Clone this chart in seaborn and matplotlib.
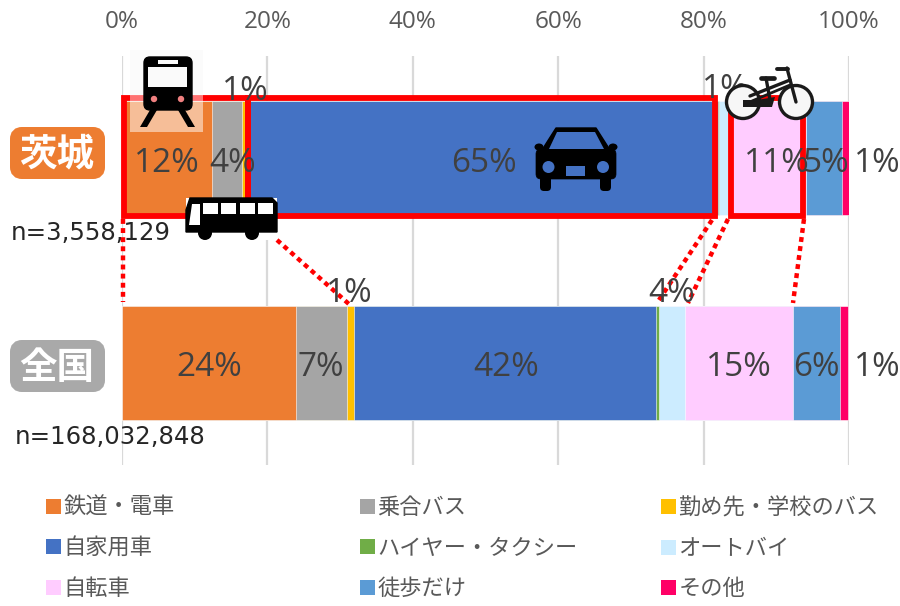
import numpy as np
import matplotlib
matplotlib.use("Agg")
import matplotlib.pyplot as plt
from matplotlib.patches import Rectangle, FancyBboxPatch, Circle, Polygon, Patch, Ellipse
import seaborn as sns

regions = ["茨城", "全国"]
modes = ["鉄道・電車", "乗合バス", "勤め先・学校のバス", "自家用車", "ハイヤー・タクシー",
         "オートバイ", "自転車", "徒歩だけ", "その他"]
colors = ["#ED7D31", "#A5A5A5", "#FFC000", "#4472C4", "#70AD47",
          "#CCECFF", "#FFCCFF", "#5B9BD5", "#FF0066"]
ibaraki = [12.4, 4.1, 0.7, 64.8, 0.1, 1.3, 10.7, 4.9, 1.0]
national = [23.9, 7.0, 1.0, 41.6, 0.3, 3.6, 14.9, 6.4, 1.2]
sample_sizes = ["n=3,558,129", "n=168,032,848"]
xticks = [0, 20, 40, 60, 80, 100]

sns.set_theme(style="white")
plt.rcParams["font.family"] = ["Open Sans", "Noto Sans CJK JP", "DejaVu Sans"]
GREY = "#595959"
DARK = "#404040"
W, H = 900, 606
fig = plt.figure(figsize=(W / 100, H / 100), dpi=100)
ax = fig.add_axes([122 / W, 1 - 465 / H, 727 / W, 409 / H])

values = np.array([ibaraki, national])
cum = values.cumsum(axis=1)
for i in range(len(modes) - 1, -1, -1):
    sns.barplot(x=cum[:, i], y=regions, color=colors[i], saturation=1, width=0.557,
                edgecolor="white", linewidth=0.4, ax=ax, zorder=2)
ax.set_xlim(0, 100)
ax.set_ylim(1.5, -0.5)
ax.xaxis.tick_top()
ax.set_xticks(xticks)
ax.set_xticklabels([f"{t}%" for t in xticks], fontsize=17.5, color=GREY)
ax.tick_params(axis="x", length=0, pad=15.5)
ax.tick_params(axis="y", length=0, labelleft=False)
ax.set_ylabel("")
ax.set_xlabel("")
ax.grid(axis="x", color="#D9D9D9", lw=1.6, zorder=0)
ax.grid(axis="y", visible=False)
ax.set_axisbelow(True)
sns.despine(ax=ax, left=True, bottom=True, top=True, right=True)

# legends: three separate columns
def col_legend(idx, x):
    h = [Patch(facecolor=colors[k], edgecolor="none", label=modes[k]) for k in idx]
    leg = fig.legend(handles=h, loc="upper left", bbox_to_anchor=(x / W, 1 - 498 / H),
                     frameon=False, fontsize=16, labelcolor=GREY, handlelength=0.66,
                     handleheight=0.66, handletextpad=0.12, labelspacing=0.88,
                     borderpad=0, borderaxespad=0)
    return leg
col_legend([0, 3, 6], 46)
col_legend([1, 4, 7], 360)
col_legend([2, 5, 8], 661)

# overlay in pixel coordinates for annotations
ov = fig.add_axes([0, 0, 1, 1], zorder=5)
ov.set_xlim(0, W)
ov.set_ylim(H, 0)
ov.axis("off")
ov.patch.set_alpha(0)

RED = "#FF0000"
# pale backdrop of train icon
ov.add_patch(Rectangle((130, 50), 73, 45, fc="#FBFBFB", ec="none", zorder=1))
ov.add_patch(Rectangle((130, 101), 73, 31, fc="white", alpha=0.5, ec="none", zorder=1))

# highlight boxes
for x0, x1 in [(123.5, 247.5), (247.5, 715), (730.5, 802.5)]:
    ov.add_patch(Rectangle((x0, 98), x1 - x0, 118, fc="none", ec=RED, lw=4.2, zorder=2,
                           joinstyle="miter"))
ov.add_patch(Rectangle((130, 95), 73, 6, fc="white", alpha=0.45, ec="none", zorder=2))
for (a, b, c, d) in [(123, 219, 123, 302), (277, 240, 350, 305), (712, 220, 657, 303),
                     (728, 219, 688, 303), (804, 219, 793, 303)]:
    ov.plot([a, c], [b, d], color=RED, lw=3.2, zorder=2, linestyle=(0, (1.1, 0.95)),
            dash_capstyle="butt")

# value labels
def lab(v, x, y):
    ov.text(x, y, f"{round(v)}%", fontsize=24, color=DARK, ha="center", va="center", zorder=3)
for v, x, y in zip(ibaraki, [167, 233, 245, 484, None, 725, 777, 826, 877],
                   [163, 163, 91, 163, 0, 89, 163, 163, 163]):
    if x is not None:
        lab(v, x, y)
for v, x, y in zip(national, [209, 321, 349, 506, None, 672, 739, 816, 877],
                   [368, 368, 294, 368, 0, 294, 368, 368, 368]):
    if x is not None:
        lab(v, x, y)

# region tags
for name, col, y0 in zip(regions, ["#ED7D31", "#A9A9A9"], [127, 340]):
    ov.add_patch(FancyBboxPatch((18, y0 + 8), 79, 36, boxstyle="round,pad=0,rounding_size=4",
                                mutation_aspect=1, fc=col, ec=col, lw=16 * 0.72, zorder=3))
    ov.text(57, y0 + 27, name, fontsize=27, fontweight="bold", color="white", ha="center",
            va="center", zorder=4, family=["Noto Sans CJK JP"])
ov.text(11, 233, sample_sizes[0], fontsize=17.6, color="#262626", ha="left", va="center", zorder=1.5,
        family=["DejaVu Sans"])
ov.text(15, 437, sample_sizes[1], fontsize=17.6, color="#262626", ha="left", va="center", zorder=1.5,
        family=["DejaVu Sans"])

# icons
K = "black"
Z = 6
# train
ov.add_patch(FancyBboxPatch((144, 57), 48, 53, boxstyle="round,pad=0,rounding_size=6", fc=K, ec=K,
                            lw=1, zorder=Z))
ov.add_patch(Rectangle((148, 67), 39, 20, fc="#FAFAFA", ec="none", zorder=Z + 1))
ov.add_patch(Rectangle((158, 60), 20, 4, fc="#FAFAFA", ec="none", zorder=Z + 1))
for cx in (154, 181):
    ov.add_patch(Circle((cx, 99), 3.2, fc="#F08080", ec="none", zorder=Z + 1))
ov.add_patch(Polygon([(150, 110), (157, 110), (147, 127), (140, 127)], fc=K, ec="none", zorder=Z))
ov.add_patch(Polygon([(178, 110), (185, 110), (195, 127), (188, 127)], fc=K, ec="none", zorder=Z))
# bus
ov.add_patch(Rectangle((186, 198), 91, 42, fc="white", ec="none", zorder=Z - 1))
ov.add_patch(Polygon([(190, 198), (272, 198), (277, 203), (277, 232), (186, 232), (186, 210)],
                     fc=K, ec=K, zorder=Z))
for x0 in (203, 221, 240, 258):
    ov.add_patch(Rectangle((x0, 203), 15, 11, fc="white", ec="none", zorder=Z + 1))
ov.add_patch(Polygon([(192, 204), (200, 204), (200, 225), (189, 225)], fc="white", ec="none", zorder=Z + 1))
for cx in (205, 252):
    ov.add_patch(Circle((cx, 233), 7, fc=K, ec="none", zorder=Z))
# car
BL = colors[3]
ov.add_patch(Polygon([(556, 128), (596, 128), (610, 150), (542, 150)], fc=K, ec=K, lw=1, zorder=Z,
                     joinstyle="round"))
ov.add_patch(Polygon([(557, 132), (595, 132), (604, 149), (549, 149)], fc=BL, ec="none", zorder=Z + 1))
ov.add_patch(FancyBboxPatch((536, 149), 80, 30, boxstyle="round,pad=0,rounding_size=5", fc=K, ec=K,
                            lw=0.5, zorder=Z))
for x0 in (540, 600):
    ov.add_patch(FancyBboxPatch((x0, 176), 11, 15, boxstyle="round,pad=0,rounding_size=4", fc=K,
                                ec="none", zorder=Z))
ov.add_patch(Circle((548.5, 167), 6, fc=BL, ec="none", zorder=Z + 1))
ov.add_patch(Circle((603, 167), 6, fc=BL, ec="none", zorder=Z + 1))
ov.add_patch(Rectangle((566, 166), 19, 10, fc=BL, ec="none", zorder=Z + 1))
ov.add_patch(Ellipse((539, 147), 9, 7, fc=K, ec="none", zorder=Z))
ov.add_patch(Ellipse((613, 147), 9, 7, fc=K, ec="none", zorder=Z))
# bicycle
B = "#1A1A1A"
for cx in (743, 796):
    ov.add_patch(Circle((cx, 102), 16.5, fc="#F7F7F7", ec=B, lw=2.4, zorder=Z))
ov.add_patch(Polygon([(743, 100), (757, 100), (775, 97), (772, 107), (743, 107)], fc=B, ec="none", zorder=Z + 1))
ov.plot([750, 790], [96, 80], color=B, lw=2.4, zorder=Z + 1)
ov.plot([752, 790], [101, 85], color=B, lw=2.0, zorder=Z + 1)
ov.plot([766, 770], [78, 100], color=B, lw=2.4, zorder=Z + 1)
ov.plot([796, 788, 787], [102, 72, 68], color=B, lw=2.4, zorder=Z + 1)
ov.plot([777, 788], [68.5, 68.5], color=B, lw=2.8, zorder=Z + 1)
ov.plot([761, 774], [78, 78], color=B, lw=3.4, zorder=Z + 1)

fig.savefig("out.png", dpi=100)
